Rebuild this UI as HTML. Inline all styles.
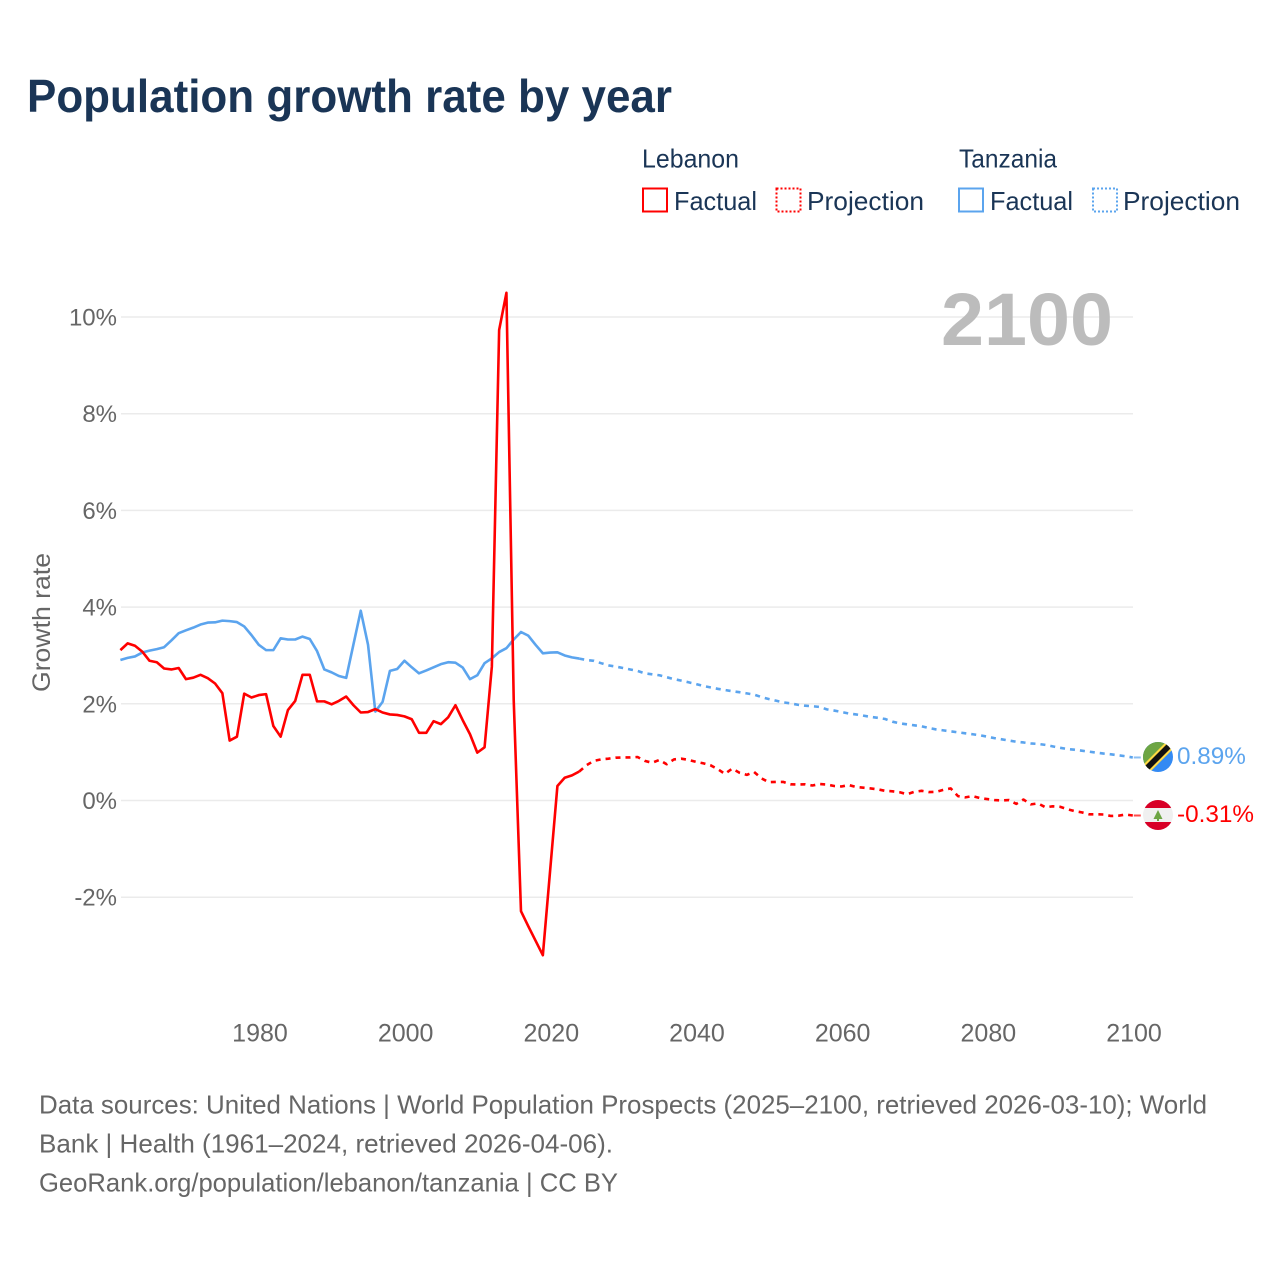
<!DOCTYPE html>
<html lang="en">
<head>
<meta charset="utf-8">
<title>Population growth rate by year</title>
<style>
html,body{margin:0;padding:0;background:#fff;width:1280px;height:1280px;overflow:hidden}
svg{display:block}
text{font-family:"Liberation Sans",sans-serif}
</style>
</head>
<body>
<svg id="chart" xmlns="http://www.w3.org/2000/svg" width="1280" height="1280" viewBox="0 0 1280 1280">
  <defs>
    <clipPath id="flag-clip-tz"><circle cx="1158" cy="757" r="15"/></clipPath>
    <clipPath id="flag-clip-lb"><circle cx="1158" cy="815" r="15"/></clipPath>
  </defs>
  <rect width="1280" height="1280" fill="#fff"/>
  <text x="27" y="112" font-size="46" font-weight="700" fill="#1a3556" textLength="645" lengthAdjust="spacingAndGlyphs">Population growth rate by year</text>

  <g fill="#1a3556" font-size="26">
    <text x="642" y="167.5" textLength="97" lengthAdjust="spacingAndGlyphs">Lebanon</text>
    <text x="959" y="167.5" textLength="98" lengthAdjust="spacingAndGlyphs">Tanzania</text>
    <rect x="643" y="188.5" width="24" height="23" fill="none" stroke="#ff0000" stroke-width="2"/>
    <text x="674" y="210" textLength="83" lengthAdjust="spacingAndGlyphs">Factual</text>
    <rect x="776.5" y="188.5" width="24" height="23" fill="none" stroke="#ff0000" stroke-width="2" stroke-dasharray="2 2"/>
    <text x="807" y="210" textLength="117" lengthAdjust="spacingAndGlyphs">Projection</text>
    <rect x="959" y="188.5" width="24" height="23" fill="none" stroke="#5ba4ee" stroke-width="2"/>
    <text x="990" y="210" textLength="83" lengthAdjust="spacingAndGlyphs">Factual</text>
    <rect x="1093" y="188.5" width="24" height="23" fill="none" stroke="#5ba4ee" stroke-width="2" stroke-dasharray="2 2"/>
    <text x="1123" y="210" textLength="117" lengthAdjust="spacingAndGlyphs">Projection</text>
  </g>

  <g id="grid"></g>
  <text x="941" y="345" font-size="74" font-weight="700" fill="#bcbcbc" textLength="172" lengthAdjust="spacingAndGlyphs">2100</text>
  <g id="y-axis" fill="#666" font-size="24" text-anchor="end"></g>
  <g id="x-axis" fill="#666" font-size="25" text-anchor="middle"></g>
  <text transform="translate(50,692) rotate(-90)" font-size="25" fill="#666" textLength="139" lengthAdjust="spacingAndGlyphs">Growth rate</text>
  <g id="series"></g>

  <g clip-path="url(#flag-clip-tz)">
    <rect x="1143" y="742" width="30" height="30" fill="#338af3"/>
    <polygon points="1143,742 1173,742 1143,772" fill="#6da544"/>
    <polygon points="1141,767 1168,740 1175,747 1148,774" fill="#ffda44"/>
    <polygon points="1143,768 1169,742 1173,746 1147,772" fill="#111"/>
  </g>
  <g clip-path="url(#flag-clip-lb)">
    <rect x="1143" y="800" width="30" height="30" fill="#f0f0f0"/>
    <rect x="1143" y="800" width="30" height="8" fill="#d80027"/>
    <rect x="1143" y="822" width="30" height="8" fill="#d80027"/>
    <polygon points="1158,810 1162.5,819 1153.5,819" fill="#6da544"/>
    <rect x="1157" y="819" width="2" height="2" fill="#6da544"/>
  </g>
  <g id="end-labels" font-size="24.3"></g>

  <g fill="#666" font-size="26">
    <text x="39" y="1113.5" textLength="1168" lengthAdjust="spacingAndGlyphs">Data sources: United Nations | World Population Prospects (2025–2100, retrieved 2026-03-10); World</text>
    <text x="39" y="1152.5" textLength="574" lengthAdjust="spacingAndGlyphs">Bank | Health (1961–2024, retrieved 2026-04-06).</text>
    <text x="39" y="1191.5" textLength="579" lengthAdjust="spacingAndGlyphs">GeoRank.org/population/lebanon/tanzania | CC BY</text>
  </g>
</svg>
<script>
const factualStartYear = 1961;
const projectionStartYear = 2024;
const yTickValues = [-2, 0, 2, 4, 6, 8, 10];
const xTickYears = [1980, 2000, 2020, 2040, 2060, 2080, 2100];
const lebanonFactual = [3.11,3.25,3.20,3.08,2.89,2.86,2.73,2.71,2.74,2.51,2.54,2.60,2.53,2.42,2.22,1.24,1.32,2.21,2.13,2.18,2.20,1.54,1.32,1.87,2.06,2.60,2.60,2.05,2.05,1.99,2.06,2.15,1.97,1.82,1.83,1.89,1.82,1.78,1.77,1.74,1.68,1.40,1.40,1.64,1.58,1.72,1.97,1.66,1.37,0.99,1.10,2.77,9.73,10.5,2.08,-2.29,-2.6,-2.9,-3.2,-1.45,0.30,0.47,0.52,0.60];
const lebanonProjection = [0.60,0.73,0.82,0.85,0.865,0.885,0.89,0.89,0.90,0.82,0.78,0.84,0.75,0.85,0.865,0.84,0.80,0.77,0.73,0.65,0.55,0.66,0.575,0.53,0.59,0.46,0.38,0.385,0.385,0.335,0.33,0.335,0.31,0.34,0.33,0.30,0.29,0.32,0.28,0.265,0.25,0.23,0.20,0.19,0.17,0.13,0.18,0.20,0.175,0.18,0.22,0.25,0.09,0.065,0.09,0.05,0.03,0.01,0.0,0.01,-0.07,0.02,-0.08,-0.06,-0.14,-0.12,-0.13,-0.18,-0.22,-0.245,-0.285,-0.285,-0.29,-0.32,-0.315,-0.29,-0.31];
const tanzaniaFactual = [2.906,2.95,2.98,3.06,3.10,3.13,3.17,3.31,3.46,3.52,3.575,3.64,3.68,3.685,3.72,3.71,3.69,3.60,3.42,3.22,3.11,3.11,3.355,3.33,3.33,3.39,3.34,3.09,2.71,2.65,2.575,2.535,3.23,3.925,3.22,1.84,2.04,2.68,2.72,2.89,2.755,2.63,2.69,2.755,2.82,2.86,2.85,2.75,2.51,2.59,2.84,2.94,3.07,3.15,3.33,3.485,3.41,3.22,3.045,3.06,3.065,3.00,2.96,2.935];
const tanzaniaProjection = [2.935,2.905,2.89,2.84,2.795,2.77,2.74,2.71,2.68,2.63,2.61,2.59,2.55,2.51,2.48,2.445,2.41,2.37,2.34,2.31,2.285,2.26,2.24,2.215,2.19,2.14,2.10,2.065,2.03,2.01,1.98,1.96,1.95,1.935,1.885,1.86,1.83,1.80,1.78,1.755,1.73,1.71,1.685,1.63,1.595,1.575,1.555,1.535,1.50,1.47,1.45,1.43,1.41,1.39,1.37,1.35,1.32,1.29,1.265,1.24,1.215,1.20,1.18,1.17,1.15,1.12,1.09,1.065,1.05,1.03,1.01,0.99,0.97,0.955,0.935,0.915,0.89];

const SVG_NS = 'http://www.w3.org/2000/svg';
const RED = '#ff0000';
const BLUE = '#5ba4ee';

function xScale(year) { return 121.6 + (year - 1961) * (1134 - 121.6) / (2100 - 1961); }
function xLine(year) { return xScale(year) - 1.2; }
function yScale(value) { return 800.5 - value * 48.35; }

function linePath(values, startYear) {
  return values.map(function (v, i) {
    return (i ? 'L' : 'M') + xLine(startYear + i).toFixed(2) + ' ' + yScale(v).toFixed(2);
  }).join('');
}

const gridGroup = document.getElementById('grid');
const yAxisGroup = document.getElementById('y-axis');
yTickValues.forEach(function (v) {
  const gl = document.createElementNS(SVG_NS, 'line');
  
  
  gl.setAttribute('x1', 121);
  gl.setAttribute('x2', 1133);
  gl.setAttribute('y1', yScale(v));
  gl.setAttribute('y2', yScale(v));
  gl.setAttribute('stroke', '#ebebeb');
  gl.setAttribute('stroke-width', 1.5);
  gridGroup.appendChild(gl);
  const t = document.createElementNS(SVG_NS, 'text');
  
  
  t.setAttribute('x', 117);
  t.setAttribute('y', yScale(v) + 8.5);
  t.textContent = v + '%';
  yAxisGroup.appendChild(t);
});

const xAxisGroup = document.getElementById('x-axis');
xTickYears.forEach(function (yr) {
  const t = document.createElementNS(SVG_NS, 'text');
  
  
  t.setAttribute('x', xScale(yr));
  t.setAttribute('y', 1041.5);
  t.textContent = yr;
  xAxisGroup.appendChild(t);
});

const seriesGroup = document.getElementById('series');
function drawLine(values, startYear, color, dashed, name) {
  const p = document.createElementNS(SVG_NS, 'path');
  
  
  p.setAttribute('d', linePath(values, startYear));
  p.setAttribute('fill', 'none');
  p.setAttribute('stroke', color);
  p.setAttribute('stroke-width', 2.6);
  p.setAttribute('stroke-linejoin', 'round');
  if (dashed) p.setAttribute('stroke-dasharray', '5 5');
  seriesGroup.appendChild(p);
}
drawLine(tanzaniaFactual, factualStartYear, BLUE, false, 'line-tanzania-factual');
drawLine(lebanonFactual, factualStartYear, RED, false, 'line-lebanon-factual');
drawLine(tanzaniaProjection, projectionStartYear, BLUE, true, 'line-tanzania-projection');
drawLine(lebanonProjection, projectionStartYear, RED, true, 'line-lebanon-projection');

function drawEnd(values, color, labelY, name) {
  const last = values[values.length - 1];
  const c = document.createElementNS(SVG_NS, 'line');
  
  
  c.setAttribute('x1', xLine(2100) + 1);
  c.setAttribute('x2', xLine(2100) + 8);
  c.setAttribute('y1', yScale(last));
  c.setAttribute('y2', yScale(last));
  c.setAttribute('stroke', color);
  c.setAttribute('stroke-width', 2);
  c.setAttribute('opacity', 0.7);
  seriesGroup.appendChild(c);
  const t = document.createElementNS(SVG_NS, 'text');
  
  
  t.setAttribute('x', 1177);
  t.setAttribute('y', labelY);
  t.setAttribute('fill', color);
  t.textContent = last.toFixed(2) + '%';
  document.getElementById('end-labels').appendChild(t);
}
drawEnd(tanzaniaProjection, BLUE, 764, 'tanzania');
drawEnd(lebanonProjection, RED, 822, 'lebanon');
</script>
</body>
</html>
